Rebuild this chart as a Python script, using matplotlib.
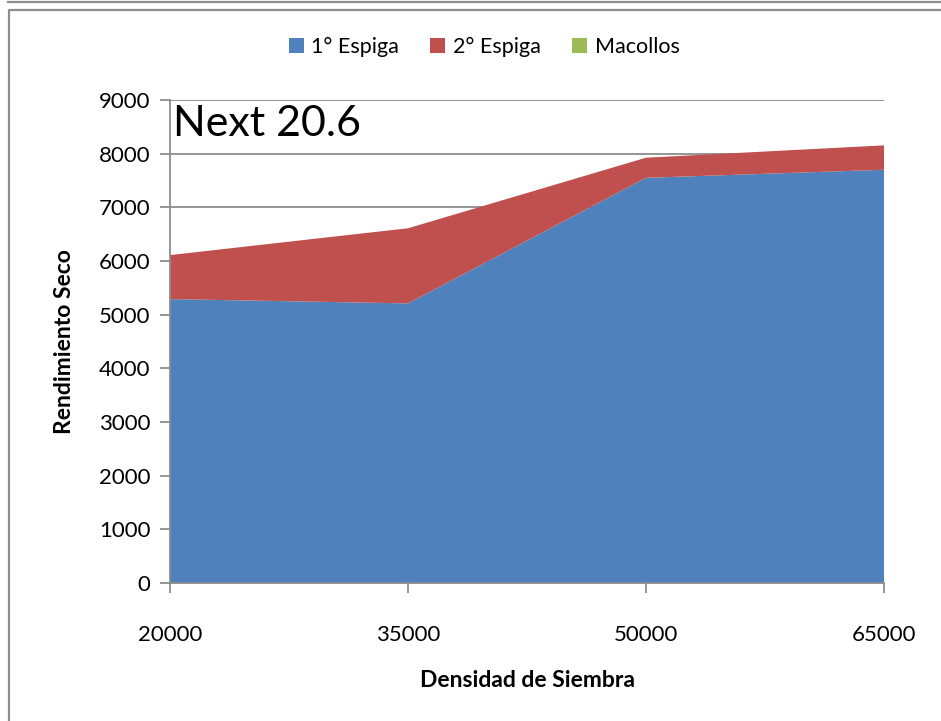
import matplotlib
matplotlib.use("Agg")
import matplotlib.pyplot as plt
from matplotlib.patches import Patch
from matplotlib.lines import Line2D
import numpy as np

plt.rcParams['font.family'] = ['Lato', 'DejaVu Sans']

densidad = [20000, 35000, 50000, 65000]
espiga1 = [5290, 5210, 7550, 7700]
espiga2 = [820, 1400, 375, 455]
macollos = [0, 0, 0, 0]
series_names = ["1° Espiga", "2° Espiga", "Macollos"]
colors = ["#4F81BD", "#C0504D", "#9BBB59"]
yticks = list(range(0, 9001, 1000))

W, H = 941, 721
fig = plt.figure(figsize=(W / 100, H / 100), dpi=100)

# frame lines
fig.add_artist(Line2D([8 / W, 1], [1 - 2 / H, 1 - 2 / H], color="#8c8c8c", lw=1.6))
fig.add_artist(Line2D([9 / W, 9 / W, 1], [0, 1 - 10 / H, 1 - 10 / H], color="#8c8c8c", lw=1.6))

ax = fig.add_axes([170 / W, 1 - 583 / H, (884 - 170) / W, (583 - 100) / H])
ax.stackplot(densidad, espiga1, espiga2, macollos, colors=colors, zorder=2)
ax.set_xlim(densidad[0], densidad[-1])
ax.set_ylim(0, 9000)
ax.set_yticks(yticks)
ax.set_xticks(densidad)
ax.set_xticklabels([str(d) for d in densidad])
ax.grid(axis="y", color="#8c8c8c", lw=1.3, zorder=1)
ax.set_axisbelow(True)
for s in ["top", "right"]:
    ax.spines[s].set_visible(False)
for s in ["left", "bottom"]:
    ax.spines[s].set_color("#8c8c8c")
    ax.spines[s].set_linewidth(1.3)
    ax.spines[s].set_zorder(3)
ax.tick_params(axis="y", length=7, width=1.3, color="#8c8c8c", labelsize=16, pad=7)
ax.tick_params(axis="x", length=7, width=1.3, color="#8c8c8c", labelsize=16, pad=23)

ax.set_xlabel("Densidad de Siembra", fontsize=16.5, fontweight="bold", labelpad=18)
ax.set_ylabel("Rendimiento Seco", fontsize=16.5, fontweight="bold", labelpad=17)

ax.text(0.004, 0.99, "Next 20.6", transform=ax.transAxes, fontsize=31,
        va="top", ha="left", zorder=5)

handles = [Patch(facecolor=c, edgecolor="none") for c in colors]
fig.legend(handles, series_names, loc="center", bbox_to_anchor=(484 / W, 1 - 47 / H),
           ncol=3, frameon=False, fontsize=15.5, handlelength=0.7, handleheight=0.75,
           handletextpad=0.35, columnspacing=1.45)

fig.savefig("out.png", dpi=100)
